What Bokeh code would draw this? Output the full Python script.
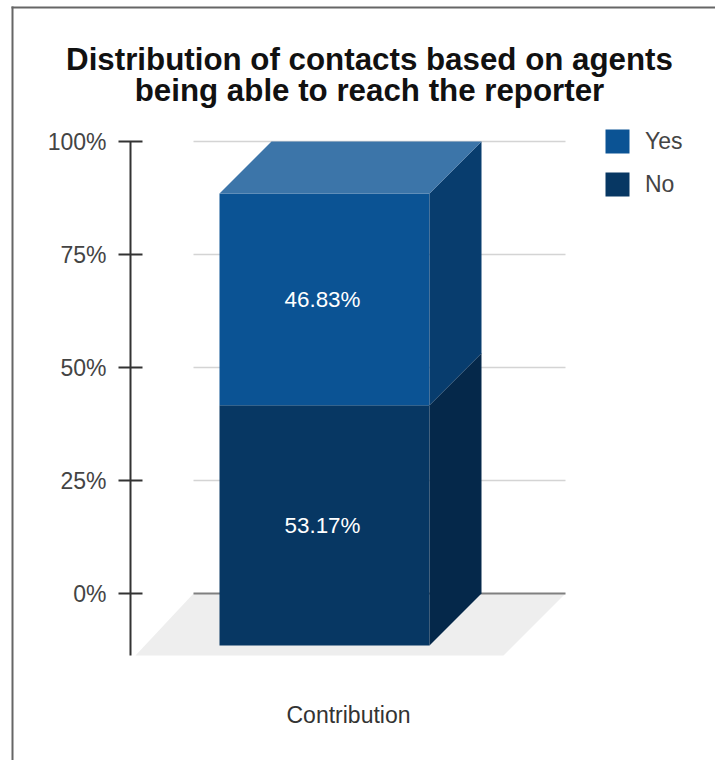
from bokeh.embed import file_html
from bokeh.resources import INLINE
from bokeh.plotting import figure
from bokeh.models import Range1d, FixedTicker, PrintfTickFormatter, Legend, LegendItem
from bokeh.core.properties import value

# ---- data ----
title_lines = ["Distribution of contacts based on agents", "being able to reach the reporter"]
category = "Contribution"
series_names = ["No", "Yes"]
series_values = [53.17, 46.83]
y_ticks = [0, 25, 50, 75, 100]

# ---- colours per series: front, side, top ----
FRONT = {"No": "#073763", "Yes": "#0b5394"}
SIDE = {"No": "#05284a", "Yes": "#083d6e"}
TOP = "#3c75a9"
FONT = "Liberation Sans"

# ---- layout: scales between picture pixels and data ----
W, H = 715, 760
PX_PER_PCT = 4.52      # 100% = 452 px
PX_PER_BAR = 210       # bar width is one x unit
ZERO_Y, BAR_CX = 593, 324
def X(px): return (px - BAR_CX) / PX_PER_BAR
def Y(py): return (ZERO_Y - py) / PX_PER_PCT
DX = 52 / PX_PER_BAR   # depth offset, x units
DY = 52 / PX_PER_PCT   # depth offset, y units

p = figure(width=W, height=H, output_backend="svg", toolbar_location=None, min_border=0,
           x_range=Range1d(X(0), X(W)),
           y_range=Range1d(Y(H), Y(0)),
           x_axis_location=None, y_axis_location="left")
p.grid.visible = False
p.outline_line_color = None
p.background_fill_color = "white"
p.border_fill_color = "white"

# outer chart border (left and top)
p.segment([X(11), X(12)], [Y(7), Y(6)], [X(W), X(12)], [Y(7), Y(H)],
          line_color="#666666", line_width=2)

# floor
p.patch([X(193), X(565), X(503), X(135)], [0, 0, Y(655), Y(655)], fill_color="#eeeeee", line_color=None)

# grid lines
for t in y_ticks:
    p.segment([X(193)], [t], [X(565)], [t], line_color="#808080" if t == 0 else "#d4d4d4",
              line_width=2 if t == 0 else 1.5)

# stacked 3D bar
L, R = -0.5, 0.5
base = 0
legend_items = {}
for name, v in zip(series_names, series_values):
    lo, hi = base, base + v
    # front face is shifted toward the viewer by the depth offset
    r = p.quad(left=[L], right=[R], bottom=[lo - DY], top=[hi - DY], fill_color=FRONT[name], line_color=None)
    p.patch([R, R + DX, R + DX, R], [lo - DY, lo, hi, hi - DY], fill_color=SIDE[name], line_color=None)
    p.text([X(322)], [(lo + hi) / 2 - DY], text=[f"{v:.2f}%"], text_color="white", text_align="center",
           text_baseline="middle", text_font=value(FONT), text_font_size="22.4px")
    legend_items[name] = r
    base = hi
p.patch([L, L + DX, R + DX, R], [base - DY, base, base, base - DY], fill_color=TOP, line_color=None)

# y axis
ax = p.yaxis[0]
ax.fixed_location = X(130)
ax.bounds = (Y(655), 100)
ax.ticker = FixedTicker(ticks=y_ticks)
ax.formatter = PrintfTickFormatter(format="%d%%")
ax.minor_tick_line_color = None
ax.major_tick_in = 12
ax.major_tick_out = 12
ax.major_label_standoff = 12
ax.axis_line_color = "#333333"
ax.axis_line_width = 2
ax.major_tick_line_color = "#333333"
ax.major_tick_line_width = 2
ax.major_label_text_font = FONT
ax.major_label_text_font_size = "23px"
ax.major_label_text_color = "#444444"

# title
p.text([X(369)], [Y(59)], text=[title_lines[0]], text_align="center", text_baseline="middle",
       text_font=value(FONT), text_font_style="bold", text_font_size="31.3px", text_color="#111111")
p.text([X(369)], [Y(90)], text=[title_lines[1]], text_align="center", text_baseline="middle",
       text_font=value(FONT), text_font_style="bold", text_font_size="31.3px", text_color="#111111")

# category label
p.text([X(348)], [Y(714)], text=[category], text_align="center", text_baseline="middle",
       text_font=value(FONT), text_font_size="23px", text_color="#333333")

# legend
legend = Legend(items=[LegendItem(label=n, renderers=[legend_items[n]]) for n in reversed(series_names)],
                location=(602, H - 199), orientation="vertical",
                glyph_width=30, glyph_height=30, spacing=13, label_standoff=13, padding=0, margin=0,
                border_line_color=None, background_fill_alpha=0,
                label_text_font=FONT, label_text_font_size="23px", label_text_color="#444444")
p.add_layout(legend, "center")

open("out.html", "w").write(file_html(p, INLINE))
